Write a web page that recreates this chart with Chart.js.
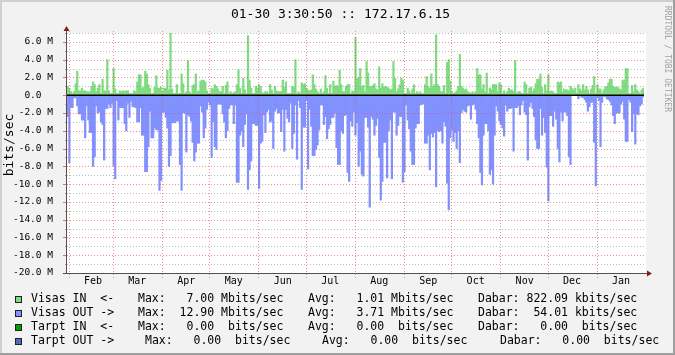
<!DOCTYPE html>
<html>
<head>
<meta charset="utf-8">
<script src="https://cdn.jsdelivr.net/npm/chart.js@4.4.1/dist/chart.umd.min.js"></script>
<style>
  html, body { margin: 0; padding: 0; background: #f2f2f2; }
  canvas { display: block; }
</style>
</head>
<body>
<canvas id="rrdChart" width="675" height="355"></canvas>
<script>
// --- data (Mbit/s, one value per day, 01-31 .. 01-30) ---
const titleText = '01-30 3:30:50 :: 172.17.6.15';
const unitLabel = 'bits/sec';
const watermark = 'RRDTOOL / TOBI OETIKER';

const firstDay = '01-31';
const monthNums = ['02', '03', '04', '05', '06', '07', '08', '09', '10', '11', '12', '01'];
const monthNames = ['Feb', 'Mar', 'Apr', 'May', 'Jun', 'Jul', 'Aug', 'Sep', 'Oct', 'Nov', 'Dec', 'Jan'];
const monthDays = [28, 31, 30, 31, 30, 31, 31, 30, 31, 30, 31, 30];

const yMin = -20;
const yMax = 7;

const visasIn = [
  0.97, 0.8, 0.4, 0.2, 0.4, 1.3, 2.7, 0.5, 0.5, 0.8,
  0.5, 0.5, 0.4, 0.4, 0.4, 1.0, 1.5, 1.2, 0.4, 0.8,
  1.2, 0.2, 1.8, 0.5, 0.5, 4.0, 0.5, 0.2, 0.2, 3.0,
  0.7, 0.2, 0.2, 0.5, 0.4, 0.5, 0.4, 0.5, 0.5, 0.2,
  0.2, 0.2, 0.5, 0.4, 1.5, 2.3, 2.3, 0.8, 0.9, 2.7,
  2.4, 1.2, 0.8, 0.2, 0.2, 0.9, 2.2, 0.8, 0.8, 0.9,
  0.4, 0.8, 0.8, 2.8, 0.6, 7.0, 0.7, 0.2, 0.2, 1.2,
  0.2, 0.2, 2.4, 1.3, 0.2, 0.4, 3.9, 0.4, 0.2, 1.1,
  1.2, 2.4, 0.4, 0.5, 1.6, 1.7, 1.7, 1.5, 0.5, 0.2,
  0.2, 0.8, 0.7, 1.2, 1.0, 0.7, 0.4, 0.4, 1.0, 0.2,
  1.1, 1.5, 0.2, 0.4, 0.2, 0.3, 0.4, 1.2, 2.85, 0.8,
  0.2, 1.9, 0.6, 0.2, 6.7, 1.7, 0.8, 0.2, 0.2, 1.0,
  0.8, 1.2, 1.0, 0.3, 0.2, 0.4, 0.4, 0.2, 1.2, 0.6,
  0.2, 1.0, 0.5, 0.4, 0.4, 0.4, 1.7, 0.9, 1.5, 0.2,
  0.2, 0.2, 1.0, 0.9, 4.0, 0.2, 0.4, 0.2, 1.4, 1.2,
  1.3, 0.8, 0.6, 0.5, 0.6, 2.3, 1.2, 0.7, 0.4, 0.2,
  0.7, 0.2, 0.4, 2.2, 0.8, 0.2, 1.2, 0.2, 1.6, 1.0,
  1.1, 1.0, 2.8, 1.2, 0.4, 0.4, 1.0, 1.2, 1.2, 0.2,
  0.5, 0.4, 6.5, 1.9, 2.0, 3.0, 1.0, 1.1, 0.4, 3.8,
  2.5, 1.0, 1.0, 1.1, 1.3, 0.7, 0.6, 3.2, 0.8, 1.3,
  0.9, 1.0, 0.9, 0.8, 0.6, 0.7, 3.8, 1.9, 0.4, 0.7,
  1.2, 1.9, 1.7, 0.2, 0.2, 0.8, 0.5, 0.2, 0.7, 1.2,
  0.2, 0.4, 0.2, 0.4, 0.2, 0.2, 1.2, 2.1, 1.0, 0.8,
  2.4, 1.0, 1.2, 6.8, 1.2, 1.0, 0.4, 0.4, 1.1, 0.2,
  3.7, 4.0, 1.6, 0.4, 0.2, 0.3, 0.5, 1.0, 4.6, 1.0,
  0.8, 0.6, 0.7, 0.4, 0.3, 0.2, 0.4, 0.2, 0.4, 3.0,
  2.3, 2.3, 0.7, 1.2, 0.4, 2.5, 0.2, 0.8, 0.6, 1.2,
  1.2, 1.2, 0.4, 1.4, 1.2, 0.2, 0.5, 0.2, 0.4, 0.8,
  0.6, 0.6, 0.4, 3.9, 0.2, 0.4, 0.4, 0.2, 0.2, 1.5,
  1.2, 0.2, 0.8, 0.9, 0.4, 0.7, 1.3, 1.8, 1.8, 2.4,
  0.9, 0.2, 1.2, 0.5, 2.3, 0.4, 0.5, 0.4, 0.2, 0.2,
  1.5, 1.4, 1.5, 0.4, 0.7, 0.6, 0.6, 0.5, 1.0, 0.8,
  0.6, 0.8, 0.2, 1.2, 0.7, 0.5, 1.2, 0.6, 1.0, 0.6,
  0.2, 0.7, 1.1, 2.1, 0.2, 1.2, 0.7, 0.7, 0.2, 0.6,
  0.9, 1.0, 1.4, 1.8, 1.8, 1.0, 0.9, 0.9, 0.9, 0.7,
  0.6, 1.7, 1.7, 3.0, 3.0, 0.2, 0.2, 1.1, 0.4, 1.2,
  0.6, 0.4, 0.2, 0.6, 0.8
];

// outgoing traffic, drawn below zero
const visasOut = [
  2.4, 7.6, 1.4, 1.4, 0.3, 0.3, 1.2, 2.1, 2.1, 2.8,
  2.8, 4.8, 1.2, 2.8, 4.2, 4.2, 8.0, 6.9, 1.2, 2.0,
  1.9, 3.0, 3.3, 7.3, 1.5, 1.5, 1.0, 1.4, 0.9, 7.9,
  9.4, 0.6, 2.8, 1.4, 1.4, 1.4, 3.2, 4.0, 0.9, 2.5,
  0.7, 1.3, 1.3, 1.4, 3.0, 3.0, 1.4, 4.5, 4.5, 8.6,
  8.6, 5.8, 1.8, 4.8, 4.8, 3.7, 3.9, 3.9, 10.7, 9.6,
  1.9, 1.9, 2.5, 3.7, 8.0, 6.8, 3.1, 3.1, 3.1, 2.9,
  2.9, 7.8, 10.7, 2.0, 2.0, 6.4, 2.2, 2.4, 2.9, 5.3,
  7.4, 6.4, 5.4, 5.4, 1.2, 1.9, 4.8, 3.7, 1.6, 0.8,
  1.1, 7.0, 3.0, 5.8, 6.1, 1.0, 1.0, 1.0, 2.1, 3.0,
  4.8, 4.0, 1.5, 1.1, 1.1, 3.2, 1.1, 9.8, 9.8, 4.5,
  4.0, 5.8, 3.3, 2.1, 10.6, 8.4, 7.4, 3.2, 3.2, 3.4,
  3.4, 10.5, 5.4, 5.2, 2.2, 4.2, 1.9, 1.6, 3.0, 2.9,
  6.0, 1.8, 1.5, 2.0, 2.0, 4.1, 1.6, 6.3, 1.6, 2.6,
  3.0, 0.9, 6.0, 4.3, 1.1, 7.2, 0.6, 1.4, 10.6, 3.6,
  3.6, 0.6, 8.3, 1.6, 3.5, 6.8, 6.8, 6.1, 5.6, 3.9,
  1.1, 1.1, 3.3, 2.4, 4.9, 3.8, 3.3, 2.5, 2.5, 2.0,
  5.9, 7.8, 7.8, 4.0, 4.3, 2.3, 2.2, 8.7, 9.7, 2.9,
  3.5, 1.9, 4.5, 3.1, 8.0, 6.3, 8.9, 9.1, 2.5, 2.5,
  3.6, 12.6, 2.4, 2.7, 4.5, 3.4, 2.6, 7.0, 11.8, 9.7,
  5.3, 5.3, 9.3, 4.0, 2.8, 9.4, 1.9, 1.9, 4.5, 3.4,
  2.4, 2.4, 9.8, 8.6, 1.1, 2.8, 3.8, 6.3, 7.8, 7.8,
  3.7, 3.2, 3.2, 1.1, 1.0, 1.0, 5.4, 5.4, 4.5, 8.4,
  4.3, 4.7, 4.2, 10.3, 4.0, 4.1, 4.0, 5.4, 3.0, 3.5,
  9.9, 12.9, 4.8, 3.9, 5.2, 4.2, 6.0, 4.0, 7.6, 2.0,
  1.6, 1.8, 1.9, 1.2, 1.1, 2.7, 1.1, 1.0, 1.6, 3.2,
  4.8, 8.7, 10.1, 4.5, 3.2, 3.2, 4.0, 8.9, 8.4, 10.0,
  4.5, 1.2, 1.8, 2.9, 3.3, 3.7, 4.6, 1.1, 1.8, 1.5,
  1.5, 1.4, 6.3, 1.4, 1.4, 1.2, 2.2, 1.1, 0.6, 1.9,
  2.2, 7.3, 1.3, 0.8, 1.5, 2.4, 5.0, 6.0, 6.0, 1.5,
  4.5, 2.5, 4.2, 8.1, 11.9, 2.3, 2.3, 3.5, 1.8, 2.7,
  6.0, 7.5, 1.9, 2.9, 1.9, 1.9, 2.3, 6.9, 7.8, 0.05,
  0.05, 0.05, 0.05, 0.4, 0.05, 0.25, 0.25, 0.5, 0.8, 1.8,
  1.3, 0.8, 0.8, 5.3, 10.2, 0.25, 0.6, 5.8, 0.8, 0.15,
  0.15, 0.4, 0.5, 0.7, 1.1, 2.3, 3.2, 2.0, 2.0, 2.0,
  1.0, 0.7, 2.7, 5.2, 5.2, 0.5, 0.8, 4.1, 2.1, 5.5,
  2.1, 2.2, 1.2, 1.0, 0.2
];

const legendNames = ['Visas IN  <-', 'Visas OUT ->', 'Tarpt IN  <-', 'Tarpt OUT ->'];
const legendMax = [7.00, 12.90, 0.00, 0.00];
const legendAvg = [1.01, 3.71, 0.00, 0.00];
const legendNow = [822.09, 54.01, 0.00, 0.00];
const legendMaxUnit = ['Mbits/sec', 'Mbits/sec', ' bits/sec', ' bits/sec'];
const legendAvgUnit = ['Mbits/sec', 'Mbits/sec', ' bits/sec', ' bits/sec'];
const legendNowUnit = ['kbits/sec', 'kbits/sec', ' bits/sec', ' bits/sec'];

// --- build labels ---
const dayLabels = [firstDay];
const monthStart = [];
monthDays.forEach((n, m) => {
  monthStart.push(dayLabels.length);
  for (let d = 1; d <= n; d++) dayLabels.push(monthNums[m] + '-' + String(d).padStart(2, '0'));
});
const monthLabelAt = {};
monthStart.forEach((s, m) => { monthLabelAt[s + 15] = monthNames[m]; });

const mono = '"DejaVu Sans Mono", monospace';
const colIn = '#80dc80';
const colOut = '#8191ff';
const legendColors = [colIn, colOut, '#00a000', '#5068c0'];

function fmt(v) { return v.toFixed(2).padStart(6); }

const rrdLook = {
  id: 'rrdLook',
  beforeDraw(chart) {
    const c = chart.ctx, a = chart.chartArea, w = chart.width, h = chart.height;
    c.save();
    c.fillStyle = '#f2f2f2';
    c.fillRect(0, 0, w, h);
    c.fillStyle = '#cfcfcf';
    c.fillRect(0, 0, w, 2);
    c.fillRect(0, 0, 2, h);
    c.fillStyle = '#9e9e9e';
    c.fillRect(0, h - 2, w, 2);
    c.fillRect(w - 2, 0, 2, h);
    c.fillStyle = '#ffffff';
    c.fillRect(a.left, a.top, a.right - a.left + 2, a.bottom - a.top);
    c.restore();
  },
  afterDatasetsDraw(chart) {
    const c = chart.ctx, a = chart.chartArea;
    const xs = chart.scales.x, ys = chart.scales.y;
    const slot = xs.getPixelForValue(1) - xs.getPixelForValue(0);
    c.save();
    c.lineWidth = 1;

    // horizontal grid, dotted
    c.setLineDash([1, 2]);
    for (let v = yMin + 1; v <= yMax; v++) {
      const py = Math.round(ys.getPixelForValue(v)) + 0.5;
      c.strokeStyle = v % 2 === 0 ? 'rgba(222,79,79,0.6)' : 'rgba(143,143,143,0.6)';
      c.beginPath();
      c.moveTo(a.left, py);
      c.lineTo(a.right + 2, py);
      c.stroke();
    }
    // month grid
    c.strokeStyle = 'rgba(222,79,79,0.6)';
    monthStart.forEach(s => {
      const px = Math.round(xs.getPixelForValue(s) - slot / 2) + 0.5;
      c.beginPath();
      c.moveTo(px, a.top - 2);
      c.lineTo(px, a.bottom + 5);
      c.stroke();
    });
    c.setLineDash([]);

    // small ticks left of the y axis
    for (let v = yMin + 1; v <= yMax; v++) {
      const py = Math.round(ys.getPixelForValue(v)) + 0.5;
      const major = v % 2 === 0;
      c.strokeStyle = major ? 'rgba(222,79,79,0.8)' : 'rgba(143,143,143,0.7)';
      c.beginPath();
      c.moveTo(a.left - (major ? 4 : 2), py);
      c.lineTo(a.left, py);
      c.stroke();
    }

    // zero line
    const p0 = ys.getPixelForValue(0);
    c.strokeStyle = '#000';
    c.lineWidth = 1.5;
    c.beginPath();
    c.moveTo(a.left, p0);
    c.lineTo(a.right, p0);
    c.stroke();

    // axes
    c.lineWidth = 1;
    c.strokeStyle = '#505050';
    c.beginPath();
    c.moveTo(a.left - 0.5, 29);
    c.lineTo(a.left - 0.5, a.bottom + 0.5);
    c.moveTo(a.left - 4, a.bottom + 0.5);
    c.lineTo(a.right + 4, a.bottom + 0.5);
    c.stroke();

    // arrows
    c.fillStyle = '#801f1f';
    c.beginPath();
    c.moveTo(a.left - 3.5, 31);
    c.lineTo(a.left + 2.5, 31);
    c.lineTo(a.left - 0.5, 26);
    c.closePath();
    c.fill();
    c.beginPath();
    c.moveTo(a.right + 3, a.bottom - 2.5);
    c.lineTo(a.right + 3, a.bottom + 3.5);
    c.lineTo(a.right + 8, a.bottom + 0.5);
    c.closePath();
    c.fill();
    c.restore();
  },
  afterDraw(chart) {
    const c = chart.ctx;
    c.save();
    c.fillStyle = '#000';
    c.textBaseline = 'middle';

    // title
    c.font = '13px ' + mono;
    c.textAlign = 'center';
    c.fillText(titleText, 340.5, 14.5);

    // unit label
    c.save();
    c.translate(10, 145);
    c.rotate(-Math.PI / 2);
    c.fillText(unitLabel, 0, 0);
    c.restore();

    // watermark
    c.save();
    c.translate(667, 6);
    c.rotate(Math.PI / 2);
    c.textAlign = 'left';
    c.font = '8px ' + mono;
    c.fillStyle = '#a0a0a0';
    c.fillText(watermark, 0, 0);
    c.restore();

    // legend
    c.font = '11.5px ' + mono;
    c.textAlign = 'left';
    const colX = [[138, 308, 478], [138, 308, 478], [138, 308, 478], [145, 322, 500]];
    legendNames.forEach((name, i) => {
      const y = 299.5 + i * 14;
      c.fillStyle = legendColors[i];
      c.fillRect(15, y - 3.5, 7, 7);
      c.strokeStyle = '#202020';
      c.lineWidth = 1;
      c.strokeRect(15.5, y - 3, 6, 6);
      c.fillStyle = '#000';
      c.fillText(name, 31, y);
      c.fillText('Max: ' + fmt(legendMax[i]) + ' ' + legendMaxUnit[i], colX[i][0], y);
      c.fillText('Avg: ' + fmt(legendAvg[i]) + ' ' + legendAvgUnit[i], colX[i][1], y);
      c.fillText('Dabar: ' + fmt(legendNow[i]) + ' ' + legendNowUnit[i], colX[i][2], y);
    });
    c.restore();
  }
};

new Chart(document.getElementById('rrdChart'), {
  type: 'bar',
  data: {
    labels: dayLabels,
    datasets: [{
      label: 'Visas IN',
      data: visasIn,
      backgroundColor: colIn
    }, {
      label: 'Visas OUT',
      data: visasOut.map(v => -v),
      backgroundColor: colOut
    }]
  },
  options: {
    responsive: false,
    animation: false,
    devicePixelRatio: 1,
    layout: { padding: { left: 0, right: 31, top: 33, bottom: 62 } },
    datasets: {
      bar: { barPercentage: 1.0, categoryPercentage: 1.0, borderWidth: 0 }
    },
    plugins: {
      legend: { display: false },
      tooltip: { enabled: false },
      title: { display: false }
    },
    scales: {
      x: {
        stacked: true,
        grid: { display: false },
        border: { display: false },
        ticks: {
          autoSkip: false,
          maxRotation: 0,
          padding: -6,
          color: '#000',
          font: { family: mono, size: 10 },
          callback: (v, i) => monthLabelAt[i] || ''
        },
        afterFit: s => { s.height = 20; }
      },
      y: {
        stacked: true,
        min: yMin,
        max: yMax,
        grid: { display: false },
        border: { display: false },
        ticks: {
          stepSize: 1,
          autoSkip: false,
          padding: 6,
          color: '#000',
          font: { family: mono, size: 9.5 },
          callback: v => (v % 2 !== 0 ? '' : (v === 0 ? '0.0  ' : v.toFixed(1) + ' M'))
        },
        afterFit: s => { s.width = 67; }
      }
    }
  },
  plugins: [rrdLook]
});
</script>
</body>
</html>
